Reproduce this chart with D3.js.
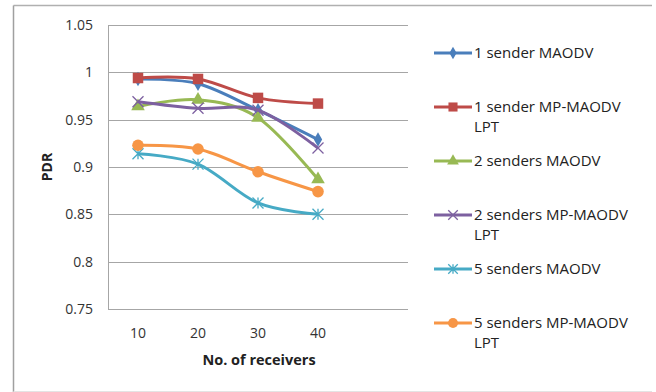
<!DOCTYPE html>
<html><head><meta charset="utf-8">
<script src="https://cdn.jsdelivr.net/npm/d3@7"></script>
<style>body{margin:0;background:#fff}svg{display:block}text{font-family:"Open Sans","Liberation Sans",sans-serif}</style>
</head><body>
<svg id="c" width="656" height="392"></svg>
<script>
const categories = [10, 20, 30, 40];
const seriesNames = ["1 sender MAODV", "1 sender MP-MAODV LPT", "2 senders MAODV", "2 senders MP-MAODV LPT", "5 senders MAODV", "5 senders MP-MAODV LPT"];
const s1 = [0.993, 0.988, 0.960, 0.929];
const s2 = [0.994, 0.993, 0.973, 0.967];
const s3 = [0.964, 0.971, 0.952, 0.887];
const s4 = [0.969, 0.962, 0.960, 0.920];
const s5 = [0.914, 0.903, 0.862, 0.850];
const s6 = [0.923, 0.919, 0.895, 0.874];
const yTicks = [0.75, 0.8, 0.85, 0.9, 0.95, 1, 1.05];
const colors = ["#4A7EBB", "#BE4B48", "#98B954", "#7D60A0", "#46AAC5", "#F79646"];
const markers = ["diamond", "square", "triangle", "x", "asterisk", "circle"];
const allSeries = [s1, s2, s3, s4, s5, s6];

const svg = d3.select("#c");
// outer frame
svg.append("line").attr("x1",13.5).attr("x2",652).attr("y1",5.5).attr("y2",5.5).attr("stroke","#b0b0b0").attr("stroke-width",1.5);
svg.append("line").attr("x1",13.5).attr("x2",13.5).attr("y1",5.5).attr("y2",392).attr("stroke","#a0a0a0").attr("stroke-width",1.5);
svg.append("line").attr("x1",13.5).attr("x2",652).attr("y1",391.5).attr("y2",391.5).attr("stroke","#e4e4e4").attr("stroke-width",1);

const x = d3.scaleLinear().domain([5, 55]).range([108, 408]);
const y = d3.scaleLinear().domain([0.75, 1.05]).range([309, 25]);

// gridlines
svg.append("g").selectAll("line").data(yTicks).join("line")
  .attr("x1", 108).attr("x2", 408)
  .attr("y1", d => Math.round(y(d)) + 0.5).attr("y2", d => Math.round(y(d)) + 0.5)
  .attr("stroke", "#a6a6a6").attr("stroke-width", 1);
svg.append("line").attr("x1",108.5).attr("x2",108.5).attr("y1",25).attr("y2",309.5).attr("stroke","#a6a6a6");

// y tick labels
svg.append("g").selectAll("text").data(yTicks).join("text")
  .attr("x", 93).attr("y", d => y(d)).attr("dy", "0.35em").attr("text-anchor", "end")
  .attr("font-size", 14).attr("fill", "#333").text(d => d3.format("")(d));
// x tick labels
svg.append("g").selectAll("text").data(categories).join("text")
  .attr("x", d => x(d)).attr("y", 333).attr("dy", "0.35em").attr("text-anchor", "middle")
  .attr("font-size", 14).attr("fill", "#333").text(d => d);

svg.append("text").attr("x", 259).attr("y", 360).attr("dy","0.35em").attr("text-anchor","middle")
  .attr("font-size", 14.5).attr("font-weight","bold").attr("fill","#222").text("No. of receivers");
svg.append("text").attr("transform","translate(47,167) rotate(-90)").attr("dy","0.35em").attr("text-anchor","middle")
  .attr("font-size", 14).attr("font-weight","bold").attr("fill","#222").text("PDR");

function drawMarker(g, type, color, cx, cy, scale) {
  const k = scale || 1;
  if (type === "diamond") {
    g.append("path").attr("d", d3.symbol(d3.symbolDiamond, 60*k)()).attr("transform",`translate(${cx},${cy})`).attr("fill", color);
  } else if (type === "square") {
    g.append("path").attr("d", d3.symbol(d3.symbolSquare, 110*k)()).attr("transform",`translate(${cx},${cy})`).attr("fill", color);
  } else if (type === "triangle") {
    g.append("path").attr("d", d3.symbol(d3.symbolTriangle, 80*k)()).attr("transform",`translate(${cx},${cy})`).attr("fill", color);
  } else if (type === "circle") {
    g.append("circle").attr("cx", cx).attr("cy", cy).attr("r", 5.8*Math.sqrt(k)).attr("fill", color);
  } else if (type === "x") {
    const r = 5.5*Math.sqrt(k);
    g.append("path").attr("d", `M${cx-r},${cy-r}L${cx+r},${cy+r}M${cx-r},${cy+r}L${cx+r},${cy-r}`).attr("stroke", color).attr("stroke-width", 1.3).attr("fill","none");
  } else if (type === "asterisk") {
    const r = 5.5*Math.sqrt(k);
    g.append("path").attr("d", `M${cx-r},${cy-r}L${cx+r},${cy+r}M${cx-r},${cy+r}L${cx+r},${cy-r}M${cx},${cy-r}L${cx},${cy+r}`).attr("stroke", color).attr("stroke-width", 1.3).attr("fill","none");
  }
}

const line = d3.line().x((d, i) => x(categories[i])).y(d => y(d)).curve(d3.curveCatmullRom.alpha(0));
const plot = svg.append("g");
allSeries.forEach((vals, si) => {
  plot.append("path").attr("d", line(vals)).attr("fill","none").attr("stroke", colors[si]).attr("stroke-width", 3).attr("stroke-linejoin","round");
  vals.forEach((v, i) => drawMarker(plot, markers[si], colors[si], x(categories[i]), y(v)));
});

// legend
const legY = [53, 107, 161, 215, 269, 323];
const leg = svg.append("g");
seriesNames.forEach((name, i) => {
  const yy = legY[i];
  leg.append("line").attr("x1", 434).attr("x2", 472).attr("y1", yy).attr("y2", yy).attr("stroke", colors[i]).attr("stroke-width", 3);
  drawMarker(leg, markers[i], colors[i], 453, yy, 0.75);
  const t = leg.append("text").attr("x", 474).attr("y", yy).attr("dy", "0.35em").attr("font-size", 15).attr("fill", "#222");
  const m = name.match(/^(.*) (LPT)$/);
  if (m) {
    t.append("tspan").attr("x", 474).text(m[1]);
    t.append("tspan").attr("x", 474).attr("dy", 20).text(m[2]);
  } else {
    t.text(name);
  }
});
</script>
</body></html>
